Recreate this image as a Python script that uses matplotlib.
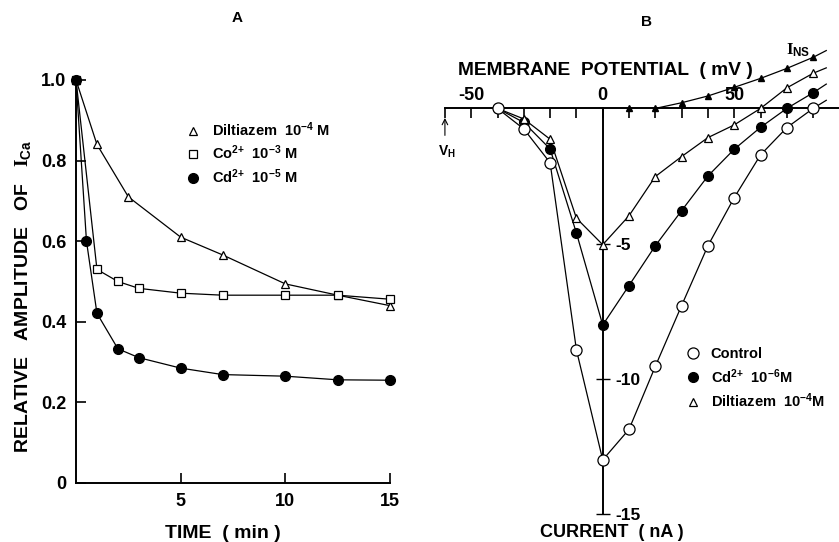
"""
Two-panel figure: A, block of I_Ca over time; B, current-voltage curves.
"""

import matplotlib
matplotlib.use('Agg')
import matplotlib.pyplot as plt

plt.rcParams['font.family'] = ['Liberation Sans', 'DejaVu Sans']
plt.rcParams['font.weight'] = 'bold'
plt.rcParams['mathtext.fontset'] = 'custom'
plt.rcParams['mathtext.rm'] = 'Liberation Sans:bold'
plt.rcParams['mathtext.it'] = 'Liberation Serif'
plt.rcParams['mathtext.bf'] = 'Liberation Sans:bold'
plt.rcParams['mathtext.default'] = 'rm'

# ── Panel A data: relative amplitude of I_Ca vs time (min) ───────────
t_dil = [0, 1, 2.5, 5, 7, 10, 12.5, 15]
a_dil = [1.0, 0.84, 0.71, 0.61, 0.566, 0.494, 0.466, 0.44]
t_co = [0, 1, 2, 3, 5, 7, 10, 12.5, 15]
a_co = [1.0, 0.53, 0.50, 0.483, 0.471, 0.466, 0.466, 0.466, 0.456]
t_cd = [0, 0.5, 1, 2, 3, 5, 7, 10, 12.5, 15]
a_cd = [1.0, 0.60, 0.421, 0.333, 0.311, 0.285, 0.269, 0.265, 0.256, 0.255]

labels_a = ['Diltiazem  10$^{-4}$ M', 'Co$^{2{+}}$  10$^{-3}$ M',
            'Cd$^{2{+}}$  10$^{-5}$ M']

# ── Panel B data: current (nA) vs membrane potential (mV) ────────────
v_iv = [-40, -30, -20, -10, 0, 10, 20, 30, 40, 50, 60, 70, 80]
i_ctrl = [0, -0.76, -2.01, -8.93, -13.0, -11.87, -9.54, -7.29, -5.08,
          -3.30, -1.72, -0.71, 0.0]
i_cd = [0, -0.52, -1.50, -4.61, -8.01, -6.55, -5.08, -3.78, -2.50,
        -1.51, -0.70, 0.0, 0.58]
i_dil = [0, -0.39, -1.14, -4.06, -5.04, -3.97, -2.52, -1.78, -1.08,
         -0.61, 0.0, 0.76, 1.30]
v_ins = [10, 20, 30, 40, 50, 60, 70, 80]
i_ins = [0, 0, 0.21, 0.46, 0.78, 1.11, 1.48, 1.89]

# hand-drawn curves run a little past the last point
v_end = 85
i_end = {'ctrl': 0.3, 'cd': 0.9, 'dil': 1.5, 'ins': 2.14}

labels_b = ['Control', 'Cd$^{2{+}}$  10$^{-6}$M', 'Diltiazem  10$^{-4}$M']

fig = plt.figure(figsize=(8.39, 5.42), dpi=100)

# ── A ────────────────────────────────────────────────────────────────
axA = fig.add_axes([0.0906, 0.1089, 0.3743, 0.7435])
lw = 0.9
for t, a in [(t_dil, a_dil), (t_co, a_co), (t_cd, a_cd)]:
    axA.plot(t, a, '-', color='black', lw=lw, clip_on=False)
axA.plot(t_dil, a_dil, '^', ls='none', ms=6, mfc='white', mec='black',
         mew=0.9, clip_on=False, label=labels_a[0])
axA.plot(t_co, a_co, 's', ls='none', ms=6, mfc='white', mec='black',
         mew=0.9, clip_on=False, label=labels_a[1])
axA.plot(t_cd, a_cd, 'o', ls='none', ms=7, mfc='black', mec='black',
         clip_on=False, label=labels_a[2], zorder=3)

axA.set_xlim(0, 15)
axA.set_ylim(0, 1.0)
for s in ['top', 'right']:
    axA.spines[s].set_visible(False)
for s in ['left', 'bottom']:
    axA.spines[s].set_linewidth(1.4)
axA.set_xticks([5, 10, 15])
axA.set_yticks([0, 0.2, 0.4, 0.6, 0.8, 1.0])
axA.set_yticklabels(['0', '0.2', '0.4', '0.6', '0.8', '1.0'])
axA.tick_params(direction='in', length=7, width=1.2, labelsize=13, pad=7)
axA.set_xlabel('TIME  ( min )', fontsize=14, fontweight='bold')
axA.xaxis.set_label_coords(0.468, -0.105)
axA.set_ylabel(r'RELATIVE   AMPLITUDE   OF   $\mathit{I}_{Ca}$',
               fontsize=14, fontweight='bold')
axA.yaxis.set_label_coords(-0.137, 0.462)
axA.legend(loc='upper left', bbox_to_anchor=(0.325, 0.918), frameon=False,
           borderpad=0, handlelength=1, handletextpad=0.8, labelspacing=0.33,
           numpoints=1, fontsize=10.5)

# ── B ────────────────────────────────────────────────────────────────
axB = fig.add_axes([0.5303, 0.0517, 0.4702, 0.9478])
axB.set_xlim(-60, 90)
axB.set_ylim(-15, 4)

for v, i, key in [(v_iv, i_ctrl, 'ctrl'), (v_iv, i_cd, 'cd'),
                  (v_iv, i_dil, 'dil')]:
    axB.plot(list(v) + [v_end], list(i) + [i_end[key]], '-', color='black',
             lw=lw)
axB.plot(v_ins[1:] + [v_end], i_ins[1:] + [i_end['ins']], '-',
         color='black', lw=lw)

axB.plot(v_iv, i_cd, 'o', ls='none', ms=7, mfc='black', mec='black',
         label=labels_b[1], zorder=3)
axB.plot(v_iv, i_dil, '^', ls='none', ms=6, mfc='white', mec='black',
         mew=0.9, label=labels_b[2], zorder=3)
axB.plot(v_iv, i_ctrl, 'o', ls='none', ms=8, mfc='white', mec='black',
         mew=0.9, label=labels_b[0], zorder=4)
axB.plot(v_ins, i_ins, '^', ls='none', ms=5, mfc='black', mec='black',
         zorder=3)

for s in ['left', 'bottom']:
    axB.spines[s].set_visible(False)
axB.spines['top'].set_position(('data', 0))
axB.spines['top'].set_bounds(-60, 90)
axB.spines['top'].set_linewidth(1.4)
axB.spines['right'].set_position(('data', 0))
axB.spines['right'].set_bounds(-15, 0)
axB.spines['right'].set_linewidth(1.4)

axB.xaxis.set_ticks_position('top')
axB.set_xticks(list(range(-60, 90, 10)))
axB.set_xticklabels(['' if v not in (-50, 0, 50) else str(v)
                     for v in range(-60, 90, 10)])
axB.tick_params(axis='x', direction='in', length=7, width=1.2,
                labelsize=13, pad=3)
axB.yaxis.set_ticks_position('right')
axB.set_yticks([-15, -10, -5])
axB.set_yticklabels(['-15', '-10', '-5'])
axB.tick_params(axis='y', direction='inout', length=10, width=1.0,
                labelsize=12.5, pad=4)

axB.text(0.9, 1.42, 'MEMBRANE  POTENTIAL  ( mV )', ha='center',
         va='center', fontsize=13.8, fontweight='bold')
axB.text(3.5, -15.7, 'CURRENT  ( nA )', ha='center', va='center',
         fontsize=13, fontweight='bold')
axB.text(74.2, 2.16, r'$\mathit{I}_{NS}$', ha='center', va='center',
         fontsize=12, fontweight='bold')
axB.annotate('', xy=(-60, -0.25), xytext=(-60, -1.1),
             arrowprops=dict(arrowstyle='->', lw=0.8, color='black'))
axB.text(-59.2, -1.62, 'V$_{H}$', ha='center', va='center', fontsize=10,
         fontweight='bold')

handles, labs = axB.get_legend_handles_labels()
order = [labs.index(l) for l in labels_b]
axB.legend([handles[k] for k in order], [labs[k] for k in order],
           loc='upper left', bbox_to_anchor=(0.592, 0.339), frameon=False,
           borderpad=0, handlelength=1, handletextpad=0.7, labelspacing=0.4,
           numpoints=1, fontsize=10.5)

fig.text(237 / 839, 1 - 18 / 542, 'A', ha='center', va='center',
         fontsize=11, fontweight='bold')
fig.text(647 / 839, 1 - 22 / 542, 'B', ha='center', va='center',
         fontsize=11, fontweight='bold')

plt.savefig('out.png', dpi=100)
